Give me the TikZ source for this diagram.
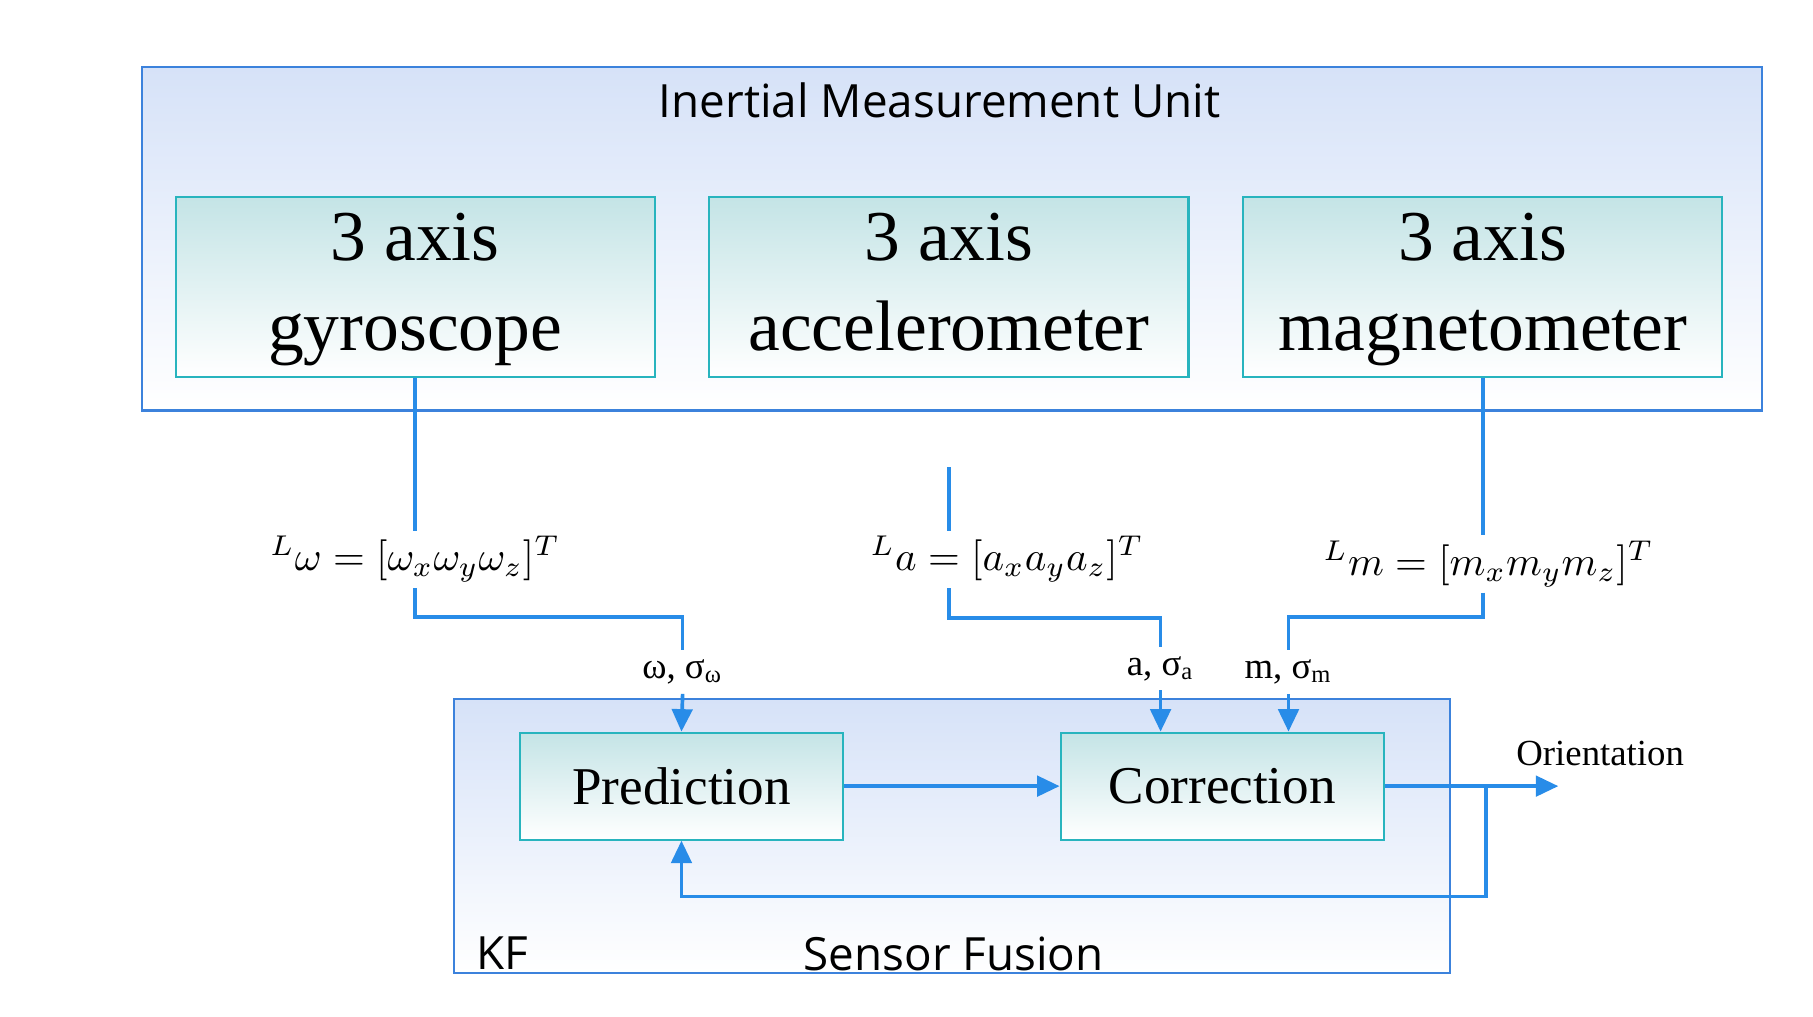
\documentclass[tikz,border=0pt]{standalone}
\usepackage{fontspec}
\setmainfont{Liberation Serif}
\newfontfamily\sansf{Open Sans}
\usepackage{amsmath}
\usetikzlibrary{arrows.meta}
\begin{document}
\begin{tikzpicture}[x=0.1mm,y=-0.1mm,
  link/.style={draw={rgb,255:red,40;green,140;blue,232},line width=0.9pt},
  arr/.style={link,-{Triangle[length=5.5pt,width=5pt]}},
  sensor/.style={draw={rgb,255:red,40;green,180;blue,190},line width=0.5pt,
     top color={rgb,255:red,196;green,228;blue,230},bottom color=white,
     minimum width=41.2mm,minimum height=15mm,align=center,font=\fontsize{17.5}{22}\selectfont,inner sep=0pt},
  block/.style={draw={rgb,255:red,40;green,180;blue,190},line width=0.5pt,
     top color={rgb,255:red,196;green,228;blue,230},bottom color=white,
     minimum width=27.8mm,minimum height=9.2mm,font=\fontsize{13}{16}\selectfont,inner sep=0pt},
  outer/.style={draw={rgb,255:red,60;green,130;blue,220},line width=0.5pt,
     top color={rgb,255:red,214;green,226;blue,248},bottom color=white},
  mlab/.style={font=\fontsize{10}{12}\selectfont,minimum height=4.8mm,inner sep=0pt},
  slab/.style={font=\fontsize{9}{11}\selectfont,minimum height=3.6mm,inner sep=0pt},
  title/.style={font=\sansf\fontsize{11.2}{13}\selectfont}]
\useasboundingbox (0,0) rectangle (1559,874);
% IMU
\draw[outer] (122,58) rectangle (1515,353);
\node[title] (imu) at (808,86) {Inertial Measurement Unit};
\node[sensor] (gyro) at (357,247) {\strut 3 axis\\\strut gyroscope};
\node[sensor] (acc) at (816,247) {\strut 3 axis\\\strut accelerometer};
\node[sensor] (mag) at (1275,247) {\strut 3 axis\\\strut magnetometer};
% KF
\draw[outer] (390,601) rectangle (1247,837);
\node[title] (kf) at (432,820) {KF};
\node[title] (sf) at (820,820) {Sensor Fusion};
\node[block] (pred) at (586,676) {Prediction};
\node[block] (corr) at (1051,676) {Correction};
% labels
\node[mlab] (wlab) at (357,481) {$^{L}\omega=[\omega_x\omega_y\omega_z]^{T}$};
\node[mlab] (alab) at (866,481) {$^{L}a=[a_xa_ya_z]^{T}$};
\node[mlab] (mlab) at (1280,485) {$^{L}m=[m_xm_ym_z]^{T}$};
\node[slab] (wsig) at (587,578) {ω, σ\textsubscript{ω}};
\node[slab] (asig) at (998,575) {a, σ\textsubscript{a}};
\node[slab] (msig) at (1108,578) {m, σ\textsubscript{m}};
\node[font=\fontsize{9}{11}\selectfont] (ori) at (1376,648) {Orientation};
\coordinate (a0) at (816,402);
\coordinate (oend) at (1340,676);
\coordinate (fb) at (1278,676);
% connectors
\draw[link] (gyro.south) -- (gyro.south |- wlab.north);
\draw[link] (gyro.south |- wlab.south) -- ++(0,25) -| (wsig.north);
\draw[arr] (wsig.south) -- (pred.north);
\draw[link] (a0) -- (a0 |- alab.north);
\draw[link] (a0 |- alab.south) -- ++(0,26) -| (asig.north);
\draw[arr] (asig.south) -- (asig.south |- corr.north);
\draw[link] (mag.south) -- (mag.south |- mlab.north);
\draw[link] (mag.south |- mlab.south) -- ++(0,21) -| (msig.north);
\draw[arr] (msig.south) -- (msig.south |- corr.north);
\draw[arr] (pred.east) -- (corr.west);
\draw[arr] (corr.east) -- (oend);
\draw[arr] (fb) -- (1278,771) -| (pred.south);
\end{tikzpicture}
\end{document}
